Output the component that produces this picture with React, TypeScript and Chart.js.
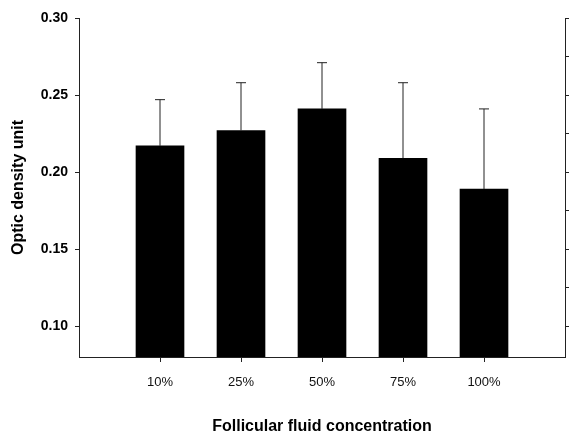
import React, { useEffect, useRef } from "react";
import { Chart, registerables } from "chart.js";

Chart.register(...registerables);

const categories = ["10%", "25%", "50%", "75%", "100%"];
const means = [0.217, 0.227, 0.241, 0.209, 0.189];
const errors = [0.030, 0.031, 0.030, 0.049, 0.052];
const majorTicks = [0.10, 0.15, 0.20, 0.25, 0.30];
const minorTicks = [0.10, 0.125, 0.15, 0.175, 0.20, 0.225, 0.25, 0.275, 0.30];
const yMin = 0.08;
const yMax = 0.30;

const FONT = "'Liberation Sans', Arial, Helvetica, sans-serif";

const errorBarPlugin = {
  id: "errorBars",
  afterDatasetsDraw(chart: any) {
    const ctx = chart.ctx;
    const yScale = chart.scales.y;
    chart.data.datasets.forEach((ds: any, di: number) => {
      const meta = chart.getDatasetMeta(di);
      const errs: (number | null)[] = ds.errors || [];
      meta.data.forEach((el: any, i: number) => {
        const v = ds.data[i];
        const e = errs[i];
        if (v == null || e == null) return;
        const x = el.x;
        const yBase = yScale.getPixelForValue(v);
        const yTop = yScale.getPixelForValue(v + e);
        ctx.save();
        ctx.strokeStyle = "#222";
        ctx.lineWidth = 1;
        ctx.beginPath();
        ctx.moveTo(x, yBase);
        ctx.lineTo(x, yTop);
        ctx.moveTo(x - 5, yTop);
        ctx.lineTo(x + 5, yTop);
        ctx.stroke();
        ctx.restore();
      });
    });
  },
};

export default function App() {
  const canvasRef = useRef<HTMLCanvasElement | null>(null);

  useEffect(() => {
    if (!canvasRef.current) return;
    const labels = ["", ...categories, ""];
    const data = [null, ...means, null];
    const errs = [null, ...errors, null];
    const chart = new Chart(canvasRef.current, {
      type: "bar",
      data: {
        labels,
        datasets: [
          {
            data: data as any,
            errors: errs,
            backgroundColor: "#000",
            borderWidth: 0,
            barThickness: 48,
          } as any,
        ],
      },
      options: {
        animation: false,
        responsive: true,
        maintainAspectRatio: false,
        layout: { padding: { top: 18, left: 0, right: 0, bottom: 0 } },
        plugins: {
          legend: { display: false },
          tooltip: { enabled: false },
        },
        scales: {
          x: {
            type: "category",
            offset: false,
            grid: {
              offset: false,
              drawOnChartArea: false,
              drawTicks: true,
              tickLength: 5,
              color: (c: any) => (c.tick && c.tick.label ? "#222" : "rgba(0,0,0,0)"),
            },
            border: { display: true, color: "#222", width: 1 },
            ticks: {
              autoSkip: false,
              maxRotation: 0,
              padding: 0,
              color: "#111",
              font: { family: FONT, size: 13, lineHeight: 3.2 },
            },
            title: {
              display: true,
              text: "Follicular fluid concentration",
              color: "#000",
              font: { family: FONT, size: 16, weight: "bold" },
              padding: { top: 0, bottom: 0 },
            },
            afterFit: (s: any) => {
              s.height = 79;
            },
          },
          y: {
            type: "linear",
            position: "left",
            min: yMin,
            max: yMax,
            grid: { drawOnChartArea: false, tickLength: 4, color: "#222" },
            border: { display: true, color: "#222", width: 1 },
            afterBuildTicks: (s: any) => {
              s.ticks = majorTicks.map((v) => ({ value: v }));
            },
            ticks: {
              padding: 7,
              color: "#000",
              font: { family: FONT, size: 14, weight: "bold" },
              callback: (v: any) => Number(v).toFixed(2),
            },
            title: {
              display: true,
              text: "Optic density unit",
              color: "#000",
              font: { family: FONT, size: 16, weight: "bold" },
              padding: { top: 9, bottom: 0 },
            },
            afterFit: (s: any) => {
              s.width = 79;
            },
          },
          y2: {
            type: "linear",
            position: "right",
            min: yMin,
            max: yMax,
            grid: { drawOnChartArea: false, tickLength: 5, color: "#222" },
            border: { display: true, color: "#222", width: 1 },
            afterBuildTicks: (s: any) => {
              s.ticks = minorTicks.map((v) => ({ value: v }));
            },
            ticks: { display: false },
            afterFit: (s: any) => {
              s.width = 4;
            },
          },
        },
      } as any,
      plugins: [errorBarPlugin],
    });
    return () => chart.destroy();
  }, []);

  return (
    <div style={{ position: "absolute", left: 0, top: 0, width: 569, height: 436, background: "#fff" }}>
      <canvas ref={canvasRef} />
    </div>
  );
}
